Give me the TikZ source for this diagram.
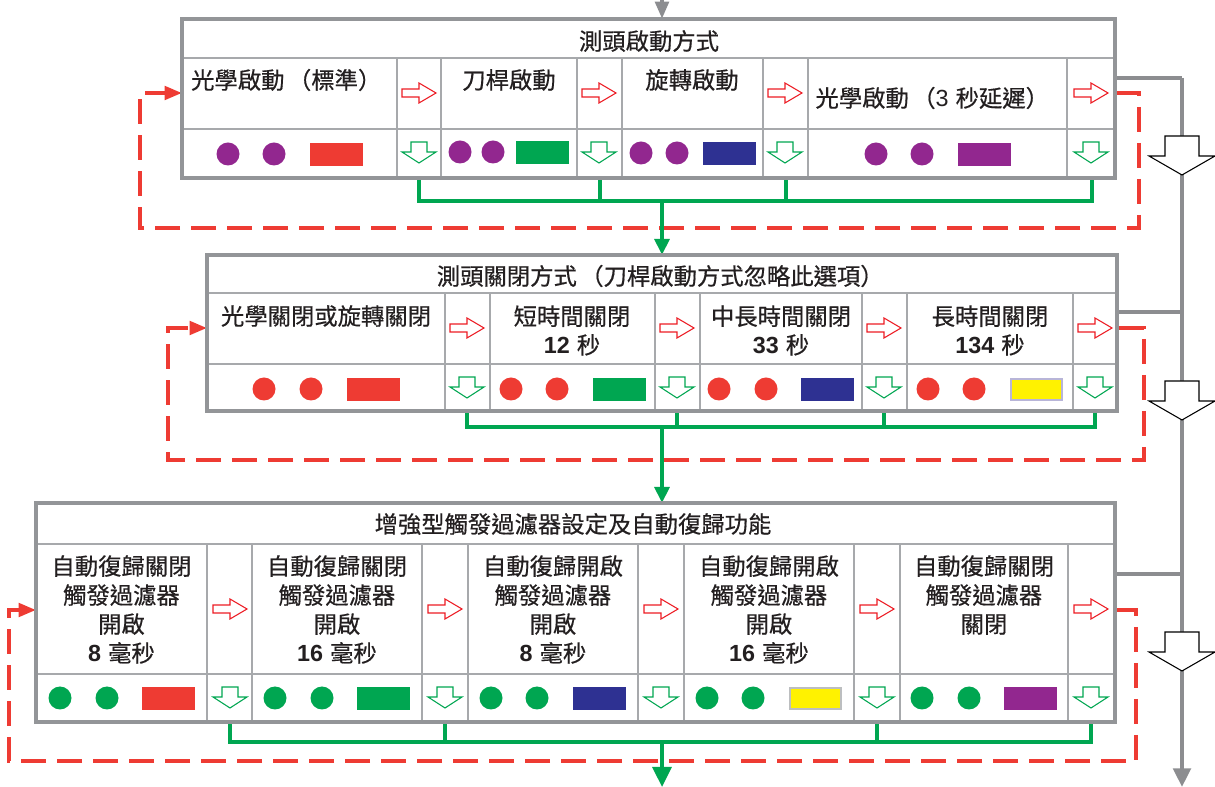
\documentclass[tikz,border=0pt]{standalone}
\usepackage{fontspec}
\setmainfont{Noto Sans CJK TC}[FakeBold=0.5]
\newfontfamily\arialf{Liberation Sans}
\usetikzlibrary{arrows.meta}
\definecolor{txt}{HTML}{231F20}
\definecolor{bordergray}{HTML}{939598}
\definecolor{innergray}{HTML}{A7A9AC}
\definecolor{gy}{HTML}{8C8D90}
\definecolor{rd}{HTML}{EE3B33}
\definecolor{arrred}{HTML}{ED1C24}
\definecolor{grn}{HTML}{00A651}
\definecolor{navy}{HTML}{2E3192}
\definecolor{purp}{HTML}{92278F}
\definecolor{yel}{HTML}{FFF200}
\definecolor{lav}{HTML}{B8B5D8}
\definecolor{lgray}{HTML}{BCBEC0}
\newcommand{\nb}[1]{{\arialf\bfseries #1}\hspace{0.3em}}
\newcommand{\lp}{\hspace{0.15em}（}
\newcommand{\rp}{）\hspace{0.15em}}
\begin{document}
\begin{tikzpicture}[x=0.75pt,y=-0.75pt,
  outer/.style={draw=bordergray, line width=2.6pt},
  inner/.style={draw=innergray, line width=1.2pt},
  lbl/.style={text=txt, font=\fontsize{17.5}{21.5}\selectfont, align=center, inner sep=0pt},
  lblb/.style={lbl, font=\fontsize{17.5}{21.75}\selectfont},
  gline/.style={draw=grn, line width=2.8pt},
  rdash/.style={draw=rd, line width=2.8pt, dash pattern=on 19pt off 8pt},
  gyline/.style={draw=gy, line width=3.2pt},
  rarr/.pic={\draw[draw=arrred, fill=white, line width=0.8pt, line join=miter]
     (-17,-4) -- (0,-4) -- (0,-10) -- (17,0) -- (0,10) -- (0,4) -- (-17,4) -- cycle;},
  garr/.pic={\draw[draw=grn, fill=white, line width=0.8pt, line join=miter]
     (-8,-11) -- (8,-11) -- (8,-1) -- (17,-1) -- (0,10) -- (-17,-1) -- (-8,-1) -- cycle;},
  bigarr/.pic={\draw[draw=black, fill=white, line width=0.8pt, line join=miter]
     (-17,0) -- (17,0) -- (17,20) -- (33,20) -- (0,39) -- (-33,20) -- (-17,20) -- cycle;},
]
\useasboundingbox (0,0) rectangle (1215,787);

% ---------------- gray main line ----------------
\coordinate (gin) at (662,0);
\coordinate (topIn) at (662,19);
\draw[gyline, -{Triangle[width=10pt,length=13pt]}] (gin) -- (topIn);
\coordinate (r1) at (1115,78);
\coordinate (r2) at (1117,312);
\coordinate (r3) at (1115,574);
\coordinate (gc1) at (1182,78);
\coordinate (gc2) at (1182,312);
\coordinate (gc3) at (1182,574);
\coordinate (gout) at (1182,787);
\draw[gyline] (r1) -- (gc1);
\draw[gyline] (r2) -- (gc2);
\draw[gyline] (r3) -- (gc3);
\draw[gyline, line join=miter, -{Triangle[width=13pt,length=14pt]}] (gc1) -- (gout);
\pic at (1182,136) {bigarr};
\pic at (1182,381) {bigarr};
\pic at (1182,632) {bigarr};

% ---------------- red dashed loops ----------------
\coordinate (l1s) at (1117,93);
\coordinate (l1e) at (182,93);
\draw[rdash, -{Triangle[width=10pt,length=13pt]}] (l1s) -- (1139,93) -- (1139,228) -- (140,228) -- (140,93) -- (l1e);
\coordinate (l2s) at (1119,328);
\coordinate (l2e) at (207,328);
\draw[rdash, -{Triangle[width=10pt,length=13pt]}] (l2s) -- (1144,328) -- (1144,460) -- (168,460) -- (168,328) -- (l2e);
\coordinate (l3s) at (1117,610);
\coordinate (l3e) at (36,610);
\draw[rdash, -{Triangle[width=10pt,length=13pt]}] (l3s) -- (1136,610) -- (1136,761) -- (9,761) -- (9,610) -- (l3e);

% ---------------- green connectors ----------------
\coordinate (midIn) at (662,255);
\coordinate (botIn) at (662,503);
\coordinate (grOut) at (662,787);
\draw[gline] (419,178) -- (419,201) -- (1092,201) -- (1092,178);
\draw[gline] (600,178) -- (600,201);
\draw[gline] (786,178) -- (786,201);
\draw[gline, -{Triangle[width=11pt,length=12pt]}] (662,201) -- (midIn);
\draw[gline] (467,411) -- (467,427) -- (1095,427) -- (1095,411);
\draw[gline] (677,411) -- (677,427);
\draw[gline] (884,411) -- (884,427);
\draw[gline, -{Triangle[width=11pt,length=12pt]}] (662,427) -- (botIn);
\draw[gline] (230,722) -- (230,742) -- (1091,742) -- (1091,722);
\draw[gline] (445,722) -- (445,742);
\draw[gline] (877,722) -- (877,742);
\draw[gline, -{Triangle[width=14pt,length=15pt]}] (662,742) -- (grOut);

% ================= TOP BOX =================
\fill[white] (182,19) rectangle (1115,178);
\draw[inner] (182,58) -- (1115,58);
\draw[inner] (182,129) -- (1115,129);
\foreach \x in {397,441,577,622,763,808,1067} \draw[inner] (\x,58) -- (\x,178);
\draw[outer] (182,19) rectangle (1115,178);
\node[lbl] (t0) at (649,41) {測頭啟動方式};
\node[lbl] (t1) at (288,80) {光學啟動\lp 標準\rp};
\node[lbl] (t2) at (509,80) {刀桿啟動};
\node[lbl] (t3) at (692,80) {旋轉啟動};
\node[lbl] (t4) at (934,98) {光學啟動\lp{\arialf 3}\hspace{0.3em}秒延遲\rp};
\foreach \x in {419,599,785,1091} {\pic at (\x,93) {rarr}; \pic at (\x,153) {garr};}
\foreach \a/\b/\r/\ry/\cy/\col in {228/274/310/143/154/rd, 460/493/516/141/152/grn, 641/677/703/142/153/navy, 876/922/958/143/154/purp}{
  \fill[purp] (\a,\cy) circle[radius=11.5];
  \fill[purp] (\b,\cy) circle[radius=11.5];
  \fill[\col] (\r,\ry) rectangle ++(53,23);
}

% ================= MIDDLE BOX =================
\fill[white] (207,255) rectangle (1117,411);
\draw[inner] (207,293) -- (1117,293);
\draw[inner] (207,364) -- (1117,364);
\foreach \x in {445,490,655,700,862,907,1073} \draw[inner] (\x,293) -- (\x,411);
\draw[outer] (207,255) rectangle (1117,411);
\node[lbl] (m0) at (662,276) {測頭關閉方式\lp 刀桿啟動方式忽略此選項\rp};
\node[lbl] (m1) at (326,316) {光學關閉或旋轉關閉};
\node[lbl] (m2) at (572,330.5) {短時間關閉\\\nb{12}秒};
\node[lbl] (m3) at (781,330.5) {中長時間關閉\\\nb{33}秒};
\node[lbl] (m4) at (990,330.5) {長時間關閉\\\nb{134}秒};
\foreach \x in {467,677,884,1095} {\pic at (\x,328) {rarr}; \pic at (\x,388) {garr};}
\foreach \a/\b/\r/\col in {264/311/347/rd, 511/557/593/grn, 719/766/801/navy}{
  \fill[rd] (\a,389) circle[radius=11.5];
  \fill[rd] (\b,389) circle[radius=11.5];
  \fill[\col] (\r,378) rectangle ++(53,23);
}
\fill[rd] (928,389) circle[radius=11.5];
\fill[rd] (974,389) circle[radius=11.5];
\filldraw[fill=yel, draw=lav, line width=1.3pt] (1011,379) rectangle ++(51,21);

% ================= BOTTOM BOX =================
\fill[white] (36,503) rectangle (1115,722);
\draw[inner] (36,544) -- (1115,544);
\draw[inner] (36,674) -- (1115,674);
\foreach \x in {207,252,422,468,638,684,854,900,1068} \draw[inner] (\x,544) -- (\x,722);
\draw[outer] (36,503) rectangle (1115,722);
\node[lbl] (b0) at (573,524) {增強型觸發過濾器設定及自動復歸功能};
\node[lblb] (b1) at (121.5,609.5) {自動復歸關閉\\觸發過濾器\\開啟\\\nb{8}毫秒};
\node[lblb] (b2) at (337,609.5) {自動復歸關閉\\觸發過濾器\\開啟\\\nb{16}毫秒};
\node[lblb] (b3) at (553,609.5) {自動復歸開啟\\觸發過濾器\\開啟\\\nb{8}毫秒};
\node[lblb] (b4) at (769,609.5) {自動復歸開啟\\觸發過濾器\\開啟\\\nb{16}毫秒};
\node[lblb] (b5) at (984,595) {自動復歸關閉\\觸發過濾器\\關閉};
\foreach \x in {230,445,661,877,1091} {\pic at (\x,609) {rarr}; \pic at (\x,698) {garr};}
\foreach \a/\b/\r/\col in {60/107/142/rd, 275/322/357/grn, 491/537/573/navy, 922/969/1004/purp}{
  \fill[grn] (\a,698) circle[radius=11.5];
  \fill[grn] (\b,698) circle[radius=11.5];
  \fill[\col] (\r,687) rectangle ++(53,23);
}
\fill[grn] (707,698) circle[radius=11.5];
\fill[grn] (753,698) circle[radius=11.5];
\filldraw[fill=yel, draw=lgray, line width=1.3pt] (790,688) rectangle ++(51,21);
\end{tikzpicture}
\end{document}
